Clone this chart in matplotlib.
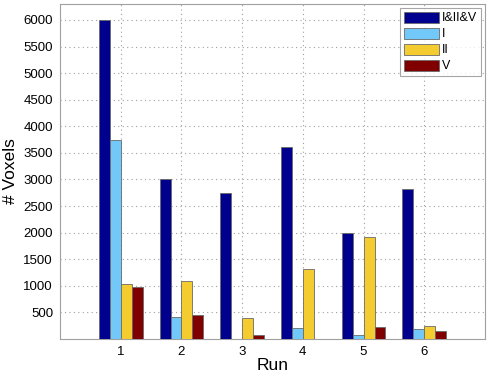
import numpy as np
import matplotlib
matplotlib.use("Agg")
import matplotlib.pyplot as plt

plt.rcParams['font.family'] = ['Liberation Sans', 'DejaVu Sans']

runs = [1, 2, 3, 4, 5, 6]
all_three = [6000, 3000, 2740, 3615, 1985, 2830]
only_i = [3750, 410, 0, 210, 75, 185]
only_ii = [1040, 1100, 400, 1320, 1920, 250]
only_v = [980, 455, 68, 0, 225, 155]

series = [all_three, only_i, only_ii, only_v]
labels = ["I&II&V", "I", "II", "V"]
colors = ["#00008F", "#73C8FA", "#F5CC30", "#800000"]

fig = plt.figure(figsize=(4.9, 3.76), dpi=100)
ax = fig.add_axes([60 / 490, 37 / 376, 425 / 490, 335 / 376])

x = np.array(runs)
w = 0.18
for i, (vals, lab, c) in enumerate(zip(series, labels, colors)):
    ax.bar(x + (i - 1.5) * w, vals, w, color=c, label=lab,
           edgecolor="#6a6a6a", linewidth=0.6, zorder=3)

ax.set_xlim(0, 7)
ax.set_ylim(0, 6300)
ax.set_xticks(runs)
ax.set_yticks(np.arange(500, 6001, 500))
ax.grid(True, linestyle=(0, (1, 3)), color="#a0a0a0", linewidth=0.8, zorder=0)
ax.tick_params(labelsize=9.5, length=0, pad=5)
for s in ax.spines.values():
    s.set_color("#a0a0a0")

ax.set_xlabel("Run", fontsize=12.5, labelpad=0)
ax.set_ylabel("# Voxels", fontsize=12.5, labelpad=4)

leg = ax.legend(loc="upper right", fontsize=9, fancybox=False,
                handlelength=2.8, handleheight=1.0, labelspacing=0.25,
                borderpad=0.3, handletextpad=0.3, borderaxespad=0.3)
leg.get_frame().set_edgecolor("#909090")
leg.get_frame().set_linewidth(0.8)

fig.savefig("out.png", dpi=100)
